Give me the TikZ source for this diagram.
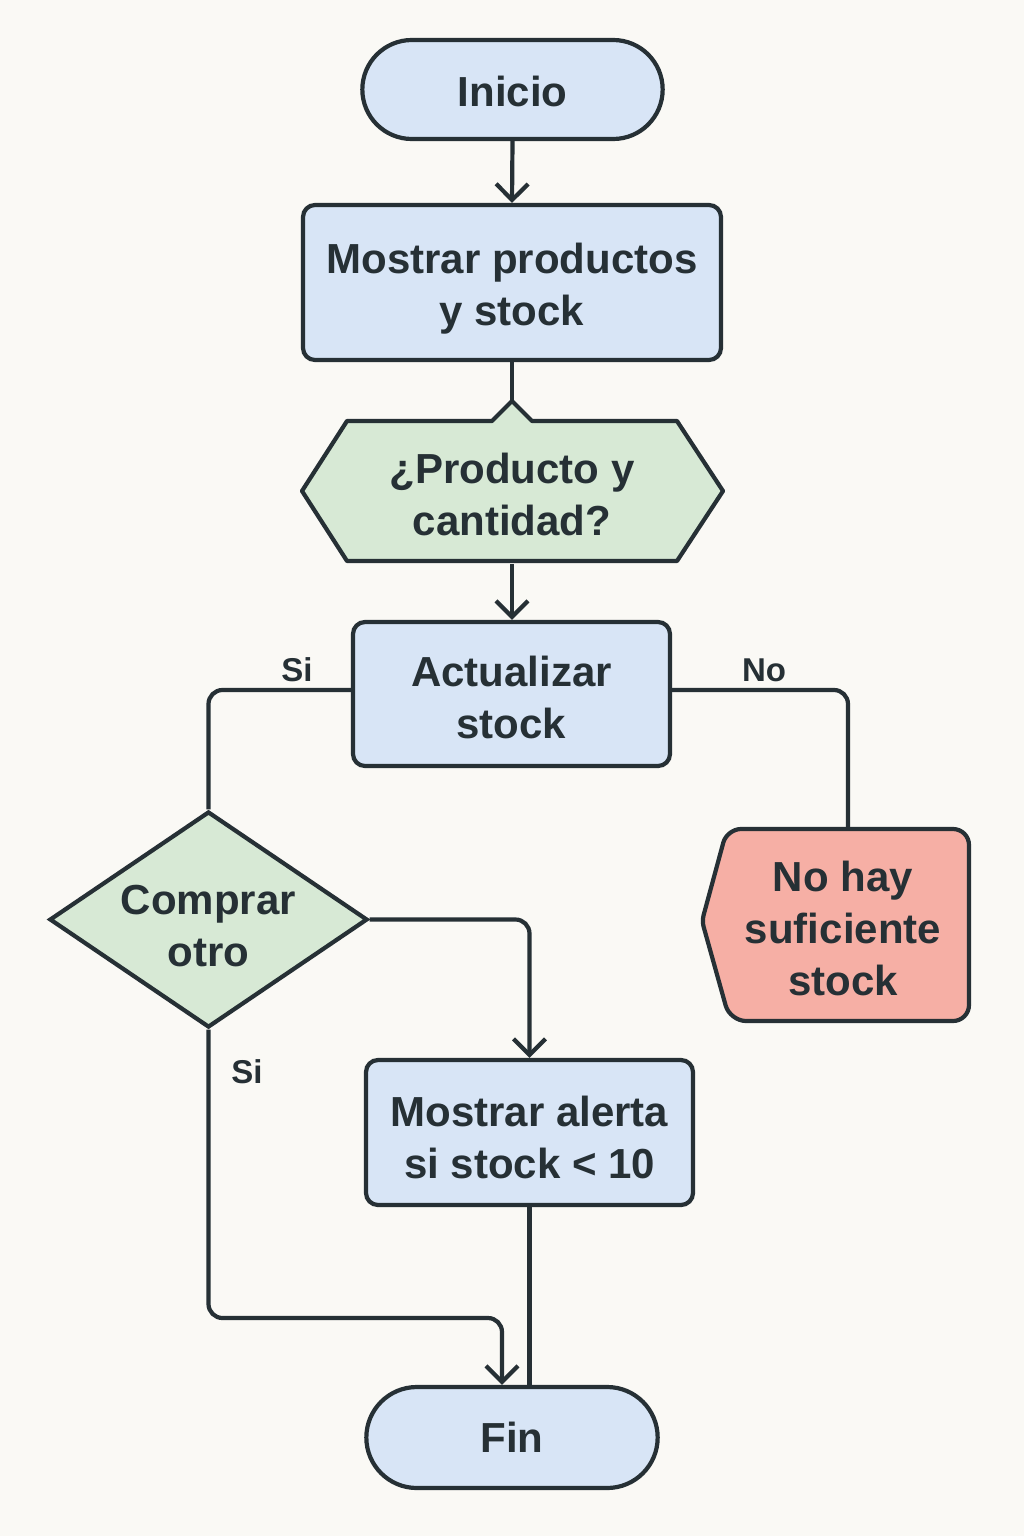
\documentclass[tikz,border=0pt]{standalone}
\usepackage{fontspec}
\setmainfont{Liberation Sans}
\usetikzlibrary{arrows.meta,shapes.misc,shapes.geometric}
\definecolor{bgc}{HTML}{FAF9F5}
\definecolor{ink}{HTML}{263035}
\definecolor{bluef}{HTML}{D8E5F6}
\definecolor{greenf}{HTML}{D7E9D5}
\definecolor{redf}{HTML}{F6AFA5}
\newcommand\mybigfont{\fontsize{42}{52}\selectfont\bfseries}
\newcommand\mylblfont{\fontsize{33}{38}\selectfont\bfseries}
\begin{document}
\begin{tikzpicture}[x=1pt,y=-1pt,
  base/.style={draw=ink, line width=4.2pt, text=ink, font=\mybigfont, align=center},
  term/.style={base, rounded rectangle, fill=bluef},
  proc/.style={base, rectangle, rounded corners=12pt, fill=bluef},
  dec/.style={base, diamond, aspect=1.47, fill=greenf, minimum width=318pt, minimum height=216pt, inner sep=0pt},
  txt/.style={text=ink, font=\mybigfont, align=center},
  lbl/.style={text=ink, font=\mylblfont},
  conn/.style={draw=ink, line width=4.2pt, rounded corners=14pt},
  arr/.style={conn, -{Straight Barb[length=16pt,width=32pt]}}
]
\useasboundingbox (0,0) rectangle (1024,1536);
\fill[bgc] (0,0) rectangle (1024,1536);

% nodes
\node[term, minimum width=307pt, minimum height=99pt, text height=34pt, text depth=0pt] (ini) at (512.5,89.5) {Inicio};
\node[proc, minimum width=418pt, minimum height=155pt, text height=85.8pt, text depth=0pt] (mp) at (512,282.5) {Mostrar productos\\y stock};

% hexagon with notch
\draw[ink, line width=4.2pt, fill=greenf, line join=round]
  (302,491) -- (347,421) -- (492,421) -- (512,401) -- (532,421) -- (677,421)
  -- (723,491) -- (677,561) -- (347,561) -- cycle;
\coordinate (qpeak) at (512,401);
\node[txt, minimum width=421pt, minimum height=140pt, inner sep=0pt] (q) at (512,494) {¿Producto y\\cantidad?};

\node[proc, minimum width=317pt, minimum height=144pt, text height=88.6pt, text depth=0pt] (act) at (511.5,694) {Actualizar\\stock};

\node[dec, text height=94.7pt, text depth=0pt] (cmp) at (208.5,919.5) {Comprar\\otro};

% no hay suficiente stock shape
\draw[ink, line width=4.2pt, fill=redf, line join=round]
  (848,829) [rounded corners=16pt] -- (969,829) -- (969,1021) -- (730,1021)
  [rounded corners=6pt] -- (702,921) [rounded corners=14pt] -- (727,829) -- cycle;
\coordinate (nhtop) at (848,829);
\node[txt, minimum width=267pt, minimum height=192pt, inner sep=0pt] (nh) at (843,928) {No hay\\suficiente\\stock};

\node[proc, minimum width=327pt, minimum height=145pt, text height=92.6pt, text depth=0pt] (alr) at (529.5,1132.5) {Mostrar alerta\\si stock < 10};

\node[term, minimum width=298pt, minimum height=101pt] (fin) at (512,1437.5) {Fin};

% labels
\node[lbl] (l1) at (297,670) {Si};
\node[lbl] (l2) at (764,670) {No};
\node[lbl] (l3) at (247,1072) {Si};

% connectors
\draw[arr] (ini.south) -- (mp.north);
\draw[conn] (mp.south) -- (qpeak);
\draw[arr] (q.south) -- (q.south |- act.north);
\draw[conn] (act.west |- 0,690) -| (cmp.north);
\draw[conn] (act.east |- 0,690) -| (nhtop);
\draw[arr] (cmp.east) -| (alr.north);
\coordinate (finin) at (502,1318);
\draw[arr] (cmp.south) |- (finin) -- (finin |- fin.north);
\draw[conn] (alr.south) -- (alr.south |- fin.north);
\end{tikzpicture}
\end{document}
